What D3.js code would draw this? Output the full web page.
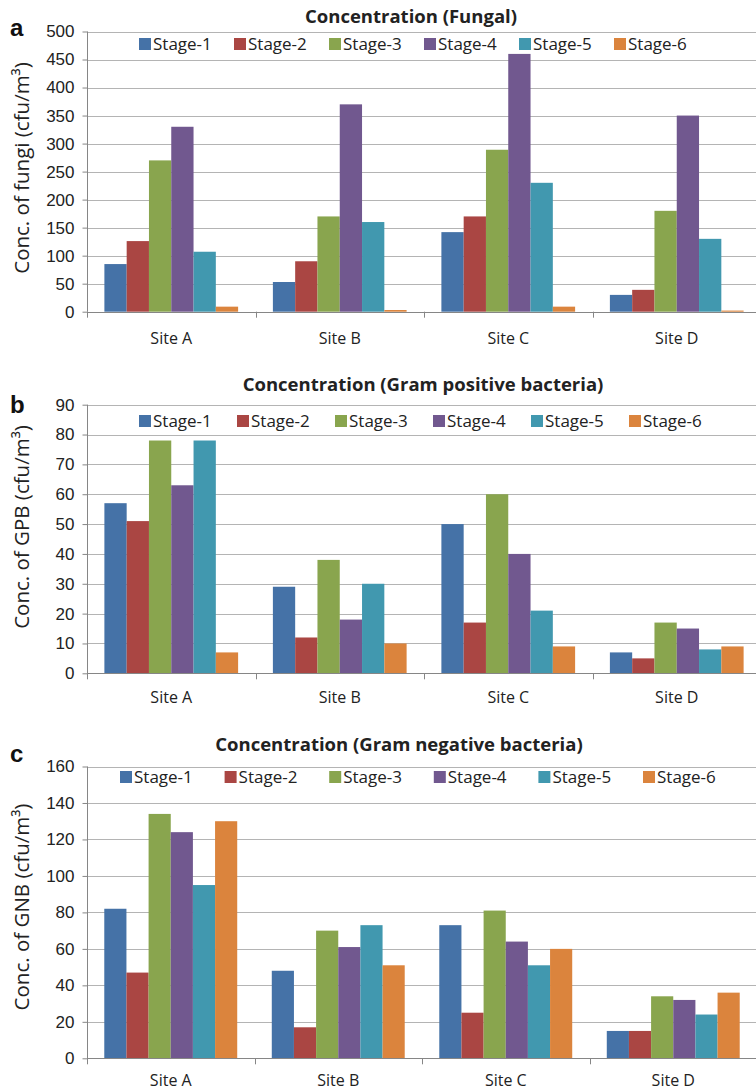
<!DOCTYPE html>
<html>
<head>
<meta charset="utf-8">
<script src="https://cdn.jsdelivr.net/npm/d3@7"></script>
<style>
  html, body { margin: 0; padding: 0; background: #fff; }
  svg { display: block; font-family: "Open Sans", "DejaVu Sans", sans-serif; }
</style>
</head>
<body>
<svg id="chart" width="756" height="1090"></svg>
<script>
// Sampling sites and impactor stages
const sites = ["Site A", "Site B", "Site C", "Site D"];
const stages = ["Stage-1", "Stage-2", "Stage-3", "Stage-4", "Stage-5", "Stage-6"];

// Concentrations (cfu/m³), one row per site, one value per stage
const fungi = [
  [85, 126, 270, 330, 107, 9],
  [53, 90, 170, 370, 160, 3],
  [142, 170, 289, 460, 230, 9],
  [30, 39, 180, 350, 130, 2]
];
const gpb = [
  [57, 51, 78, 63, 78, 7],
  [29, 12, 38, 18, 30, 10],
  [50, 17, 60, 40, 21, 9],
  [7, 5, 17, 15, 8, 9]
];
const gnb = [
  [82, 47, 134, 124, 95, 130],
  [48, 17, 70, 61, 73, 51],
  [73, 25, 81, 64, 51, 60],
  [15, 15, 34, 32, 24, 36]
];

// Axis maxima and tick steps
const yMaxima = [500, 90, 160];
const yTickSteps = [50, 10, 20];

const titles = [
  "Concentration (Fungal)",
  "Concentration (Gram positive bacteria)",
  "Concentration (Gram negative bacteria)"
];
const yLabels = [
  "Conc. of fungi (cfu/m³)",
  "Conc. of GPB (cfu/m³)",
  "Conc. of GNB (cfu/m³)"
];
const panelLetters = ["a", "b", "c"];

const stageColors = ["#4572A7", "#AA4643", "#89A54E", "#71588F", "#4198AF", "#DB843D"];

// Panel geometry
const layout = [
  { top: 31.5, bottom: 311.7, right: 761, titleX: 411, titleY: 23, letterY: 36, legendX: 139, legendStep: 95, legendY: 44, yLabelY: 168, xLabelY: 344 },
  { top: 404.7, bottom: 673.3, right: 761, titleX: 423, titleY: 391, letterY: 413, legendX: 139, legendStep: 98, legendY: 421, yLabelY: 527, xLabelY: 703 },
  { top: 766.5, bottom: 1058.3, right: 757, titleX: 399, titleY: 751, letterY: 762, legendX: 120, legendStep: 104.6, legendY: 777, yLabelY: 907, xLabelY: 1086 }
];
const datasets = [fungi, gpb, gnb];
const plotLeft = 87;

const svg = d3.select("#chart");

datasets.forEach((data, i) => {
  const L = layout[i];
  const g = svg.append("g");

  const x0 = d3.scaleBand().domain(sites).range([plotLeft, L.right]).padding(0);
  const x1 = d3.scaleBand().domain(stages).range([0, x0.bandwidth()])
    .paddingInner(0).paddingOuter(0.78);
  const y = d3.scaleLinear().domain([0, yMaxima[i]]).range([L.bottom, L.top]);
  const ticks = d3.range(0, yMaxima[i] + 1e-9, yTickSteps[i]);

  // horizontal gridlines
  g.append("g")
    .selectAll("line")
    .data(ticks.filter(t => t > 0))
    .join("line")
    .attr("x1", plotLeft).attr("x2", L.right)
    .attr("y1", d => Math.round(y(d)) + 0.5).attr("y2", d => Math.round(y(d)) + 0.5)
    .attr("stroke", "#b4b4b4").attr("stroke-width", 1);

  // bars
  g.append("g")
    .selectAll("g")
    .data(data)
    .join("g")
    .attr("transform", (row, si) => `translate(${x0(sites[si])},0)`)
    .selectAll("rect")
    .data(row => row.map((v, k) => ({ stage: stages[k], value: v, k })))
    .join("rect")
    .attr("x", d => x1(d.stage))
    .attr("width", x1.bandwidth())
    .attr("y", d => y(d.value))
    .attr("height", d => y(0) - y(d.value))
    .attr("fill", d => stageColors[d.k]);

  // y axis
  const yAxis = d3.axisLeft(y).tickValues(ticks).tickSize(5).tickPadding(8).tickFormat(d3.format("d"));
  const ya = g.append("g").attr("transform", `translate(${plotLeft + 0.5},0)`).call(yAxis);
  ya.select(".domain").attr("stroke", "#868686").attr("d", `M0,${L.bottom}V${L.top}`);
  ya.selectAll(".tick line").attr("stroke", "#868686");
  ya.selectAll(".tick text").attr("font-size", 17).attr("fill", "#222");

  // x axis baseline with category separators
  const xa = g.append("g");
  xa.append("line")
    .attr("x1", plotLeft).attr("x2", L.right)
    .attr("y1", Math.round(L.bottom) + 0.5).attr("y2", Math.round(L.bottom) + 0.5)
    .attr("stroke", "#868686");
  const seps = sites.map(s => x0(s)).concat([x0(sites[sites.length - 1]) + x0.bandwidth()]);
  xa.selectAll("line.sep")
    .data(seps)
    .join("line")
    .attr("class", "sep")
    .attr("x1", d => Math.round(d) + 0.5).attr("x2", d => Math.round(d) + 0.5)
    .attr("y1", L.bottom).attr("y2", L.bottom + 6)
    .attr("stroke", "#868686");
  xa.selectAll("text")
    .data(sites)
    .join("text")
    .attr("x", d => x0(d) + x0.bandwidth() / 2)
    .attr("y", L.xLabelY)
    .attr("text-anchor", "middle")
    .attr("font-size", 16)
    .attr("fill", "#222")
    .text(d => d);

  // title
  g.append("text")
    .attr("x", L.titleX).attr("y", L.titleY)
    .attr("text-anchor", "middle")
    .attr("font-size", 18.5).attr("font-weight", "bold")
    .attr("fill", "#222")
    .text(titles[i]);

  // panel letter
  g.append("text")
    .attr("x", 10).attr("y", L.letterY)
    .attr("font-size", 24).attr("font-weight", "bold")
    .attr("font-family", "Liberation Sans, Arial, sans-serif")
    .attr("fill", "#111")
    .text(panelLetters[i]);

  // y axis title
  g.append("text")
    .attr("transform", `translate(29,${L.yLabelY}) rotate(-90)`)
    .attr("text-anchor", "middle")
    .attr("font-size", 20.5)
    .attr("fill", "#222")
    .text(yLabels[i]);

  // legend
  const lg = g.append("g");
  const items = lg.selectAll("g")
    .data(stages)
    .join("g")
    .attr("transform", (d, k) => `translate(${L.legendX + k * L.legendStep},${L.legendY})`);
  items.append("rect")
    .attr("x", 0).attr("y", -6).attr("width", 12).attr("height", 12)
    .attr("fill", (d, k) => stageColors[k]);
  items.append("text")
    .attr("x", 14).attr("y", 6)
    .attr("font-size", 17)
    .attr("fill", "#222")
    .text(d => d);
});
</script>
</body>
</html>
